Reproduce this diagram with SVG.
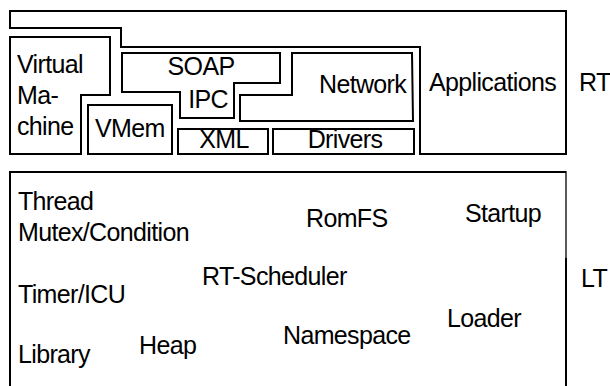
<svg xmlns="http://www.w3.org/2000/svg" width="610" height="386" viewBox="0 0 610 386">
<style>
.s{fill:none;stroke:#000;stroke-width:2;stroke-linejoin:miter}
.t{stroke-width:1.3}
text{font-family:"Liberation Sans",Arial,sans-serif;font-size:25px;letter-spacing:-0.65px;fill:#000}
.m{text-anchor:middle}
</style>
<rect width="610" height="386" fill="#fff"/>
<g id="applications">
<path class="s" d="M10,11 H566 V154 H420 V47 H121 V28 H10 Z"/>
<text x="429" y="91">Applications</text>
</g>
<g id="virtual-machine">
<path class="s" d="M10,37 H110 V95 H81 V154 H10 Z"/>
<text x="17" y="73">Virtual</text>
<text x="17" y="104">Ma-</text>
<text x="17" y="135">chine</text>
</g>
<g id="vmem">
<rect class="s" x="88" y="105" width="84" height="49"/>
<text x="95" y="137">VMem</text>
</g>
<g id="soap-ipc">
<path class="s" d="M122,53 H280 V83 H234 V118 H180 V92 H122 Z"/>
<text class="m" x="201" y="75">SOAP</text>
<text class="m" x="208" y="108">IPC</text>
</g>
<g id="xml">
<rect class="s" x="178" y="129" width="90" height="25"/>
<text class="m" x="224" y="148">XML</text>
</g>
<g id="drivers">
<rect class="s" x="273" y="129" width="141" height="25"/>
<text class="m" x="345" y="148">Drivers</text>
</g>
<g id="network">
<path class="s" d="M292,53 H412 L413,121 H240 V95 H292 Z"/>
<text x="319" y="93">Network</text>
</g>
<g id="rt-label">
<text x="579" y="91">RT</text>
</g>
<g id="lt-box">
<path class="s" d="M10,392 V172 H566"/>
<path class="s t" d="M566,171 V258"/>
<path class="s" d="M566,258 V392"/>
<text x="18" y="210">Thread</text>
<text x="18" y="241">Mutex/Condition</text>
<text x="306" y="227">RomFS</text>
<text x="465" y="222">Startup</text>
<text x="202" y="285">RT-Scheduler</text>
<text x="18" y="303">Timer/ICU</text>
<text x="447" y="327">Loader</text>
<text x="283" y="344">Namespace</text>
<text x="139" y="354">Heap</text>
<text x="18" y="363">Library</text>
</g>
<g id="lt-label">
<text x="581" y="287">LT</text>
</g>
</svg>
